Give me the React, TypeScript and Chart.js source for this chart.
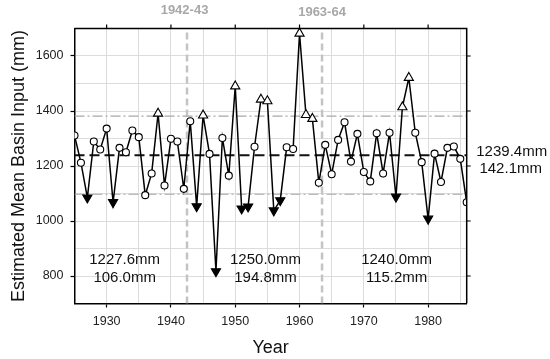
import React, { useEffect, useRef } from 'react';
import { Chart, registerables } from 'chart.js';

Chart.register(...registerables);

const YEARS = [
  1925, 1926, 1927, 1928, 1929, 1930, 1931, 1932, 1933, 1934, 1935, 1936, 1937, 1938, 1939, 1940,
  1941, 1942, 1943, 1944, 1945, 1946, 1947, 1948, 1949, 1950, 1951, 1952, 1953, 1954, 1955, 1956,
  1957, 1958, 1959, 1960, 1961, 1962, 1963, 1964, 1965, 1966, 1967, 1968, 1969, 1970, 1971, 1972,
  1973, 1974, 1975, 1976, 1977, 1978, 1979, 1980, 1981, 1982, 1983, 1984, 1985, 1986,
];

const INPUT_MM = [
  1311, 1212, 1085, 1289, 1260, 1336, 1068, 1266, 1250, 1329, 1305, 1094, 1173, 1391, 1129, 1299,
  1289, 1117, 1363, 1053, 1384, 1244, 817, 1302, 1165, 1490, 1045, 1052, 1270, 1442, 1436, 1038,
  1075, 1268, 1262, 1682, 1386, 1372, 1139, 1277, 1170, 1295, 1359, 1216, 1317, 1178, 1144, 1319,
  1173, 1321, 1088, 1414, 1521, 1321, 1214, 1008, 1245, 1142, 1266, 1271, 1226, 1068,
];

// o = circle, u = up triangle (high), d = down triangle (low)
const MARKERS = [
  'o', 'o', 'd', 'o', 'o', 'o', 'd', 'o', 'o', 'o', 'o', 'o', 'o', 'u', 'o', 'o',
  'o', 'o', 'o', 'd', 'u', 'o', 'd', 'o', 'o', 'u', 'd', 'd', 'o', 'u', 'u', 'd',
  'd', 'o', 'o', 'u', 'u', 'u', 'o', 'o', 'o', 'o', 'o', 'o', 'o', 'o', 'o', 'o',
  'o', 'o', 'd', 'u', 'u', 'o', 'o', 'd', 'o', 'o', 'o', 'o', 'o', 'o',
];

const MEAN = 1239.4;
const SD = 142.1;
const BREAKS = [1942.5, 1963.5];
const BREAK_LABELS = ['1942-43', '1963-64'];
const PERIOD_MEANS = ['1227.6mm', '1250.0mm', '1240.0mm'];
const PERIOD_SDS = ['106.0mm', '194.8mm', '115.2mm'];
const PERIOD_LABEL_X = [1932.8, 1954.7, 1975.1];
const X_TICKS = [1930, 1940, 1950, 1960, 1970, 1980];
const Y_TICKS = [800, 1000, 1200, 1400, 1600];
const X_MIN = 1925;
const X_MAX = 1986;
const Y_MIN = 700;
const Y_MAX = 1700;

const FONT = '"Liberation Sans", Arial, Helvetica, sans-serif';

const overlay = {
  id: 'overlay',
  afterDatasetsDraw(chart: any) {
    const { ctx, chartArea: a, scales } = chart;
    const x = scales.x;
    const y = scales.y;
    ctx.save();
    // top & right frame
    ctx.strokeStyle = '#000';
    ctx.lineWidth = 1.5;
    ctx.beginPath();
    ctx.moveTo(a.left, a.top);
    ctx.lineTo(a.right, a.top);
    ctx.lineTo(a.right, a.bottom);
    ctx.stroke();
    ctx.lineWidth = 1.2;
    ctx.beginPath();
    for (const t of X_TICKS) {
      const px = x.getPixelForValue(t);
      ctx.moveTo(px, a.top);
      ctx.lineTo(px, a.top - 4);
    }
    for (const t of Y_TICKS) {
      const py = y.getPixelForValue(t);
      ctx.moveTo(a.right, py);
      ctx.lineTo(a.right + 4, py);
    }
    ctx.stroke();

    // period statistics
    ctx.fillStyle = '#111';
    ctx.font = `15px ${FONT}`;
    ctx.textAlign = 'center';
    ctx.textBaseline = 'middle';
    PERIOD_LABEL_X.forEach((px, i) => {
      const cx = x.getPixelForValue(px);
      ctx.fillText(PERIOD_MEANS[i], cx, y.getPixelForValue(861) + 1);
      ctx.fillText(PERIOD_SDS[i], cx, y.getPixelForValue(797) + 1);
    });

    // overall statistics on the right
    const my = y.getPixelForValue(MEAN);
    ctx.fillText(`${MEAN.toFixed(1)}mm`, a.right + 45, my - 3);
    ctx.fillText(`${SD.toFixed(1)}mm`, a.right + 44, my + 13.5);

    // break labels
    ctx.fillStyle = '#a8a8a8';
    ctx.font = `bold 13px ${FONT}`;
    BREAKS.forEach((b, i) => {
      const bx = x.getPixelForValue(b);
      ctx.fillText(BREAK_LABELS[i], bx - (i === 0 ? 2.5 : 0), i === 0 ? 10 : 12);
    });
    ctx.restore();
  },
};

export default function App() {
  const ref = useRef<HTMLCanvasElement | null>(null);

  useEffect(() => {
    if (!ref.current) return;
    const hLine = (v: number) => [
      { x: X_MIN, y: v },
      { x: X_MAX, y: v },
    ];
    const vLine = (v: number) => [
      { x: v, y: Y_MIN },
      { x: v, y: Y_MAX },
    ];
    const chart = new Chart(ref.current, {
      type: 'line',
      data: {
        datasets: [
          {
            label: 'Basin input',
            data: YEARS.map((yr, i) => ({ x: yr, y: INPUT_MM[i] })),
            borderColor: '#000',
            borderWidth: 1.5,
            tension: 0,
            pointStyle: MARKERS.map((m) => (m === 'o' ? 'circle' : 'triangle')) as any,
            pointRotation: MARKERS.map((m) => (m === 'd' ? 180 : 0)),
            pointRadius: MARKERS.map((m) => (m === 'o' ? 3.5 : 5.3)),
            pointBackgroundColor: MARKERS.map((m) => (m === 'd' ? '#000' : '#fff')),
            pointBorderColor: '#000',
            pointBorderWidth: 1.1,
          },
          {
            label: 'mean',
            data: hLine(MEAN),
            borderColor: '#111',
            borderWidth: 2,
            borderDash: [10, 5],
            pointRadius: 0,
          },
          {
            label: 'upper',
            data: hLine(MEAN + SD),
            borderColor: '#a8a8a8',
            borderWidth: 1.2,
            borderDash: [10, 3, 2, 3],
            pointRadius: 0,
          },
          {
            label: 'lower',
            data: hLine(MEAN - SD),
            borderColor: '#a8a8a8',
            borderWidth: 1.2,
            borderDash: [10, 3, 2, 3],
            pointRadius: 0,
          },
          ...BREAKS.map((b) => ({
            label: 'break',
            data: vLine(b),
            borderColor: '#c4c4c4',
            borderWidth: 2.5,
            borderDash: [7, 4],
            pointRadius: 0,
          })),
        ],
      },
      options: {
        responsive: false,
        animation: false,
        layout: { padding: { top: 28.5, right: 83.3, left: 0, bottom: 0 } },
        plugins: { legend: { display: false }, tooltip: { enabled: false } },
        scales: {
          x: {
            type: 'linear',
            min: X_MIN,
            max: X_MAX,
            afterFit: (s: any) => {
              s.height = 55.5;
            },
            ticks: {
              stepSize: 5,
              includeBounds: false,
              autoSkip: false,
              maxRotation: 0,
              padding: 7,
              color: '#222',
              font: { family: FONT, size: 12.5 },
              callback: (v: any) => (Number(v) % 10 === 0 ? String(v) : ''),
            },
            grid: {
              color: '#dcdcdc',
              lineWidth: 1,
              tickLength: 4,
              tickWidth: 1.2,
              tickColor: (c: any) => (c.tick && c.tick.value % 10 === 0 ? '#000' : 'rgba(0,0,0,0)'),
            },
            border: { display: true, color: '#000', width: 1.5 },
            title: {
              display: true,
              text: 'Year',
              color: '#111',
              font: { family: FONT, size: 18 },
              padding: { top: 0, bottom: 0 },
            },
          },
          y: {
            type: 'linear',
            min: Y_MIN,
            max: Y_MAX,
            afterFit: (s: any) => {
              s.width = 74.5;
            },
            ticks: {
              stepSize: 100,
              includeBounds: false,
              autoSkip: false,
              padding: 7,
              color: '#222',
              font: { family: FONT, size: 12.5 },
              callback: (v: any) => (Number(v) % 200 === 0 ? String(v) : ''),
            },
            grid: {
              color: '#dcdcdc',
              lineWidth: 1,
              tickLength: 4,
              tickWidth: 1.2,
              tickColor: (c: any) => (c.tick && c.tick.value % 200 === 0 ? '#000' : 'rgba(0,0,0,0)'),
            },
            border: { display: true, color: '#000', width: 1.5 },
            title: {
              display: true,
              text: 'Estimated Mean Basin Input (mm)',
              color: '#111',
              font: { family: FONT, size: 18 },
              padding: { top: 8, bottom: 0 },
            },
          },
        },
      },
      plugins: [overlay],
    } as any);
    return () => chart.destroy();
  }, []);

  return (
    <div style={{ position: 'absolute', left: 0, top: 0, width: 550, height: 359, background: '#fff' }}>
      <canvas ref={ref} width={550} height={359} />
    </div>
  );
}
